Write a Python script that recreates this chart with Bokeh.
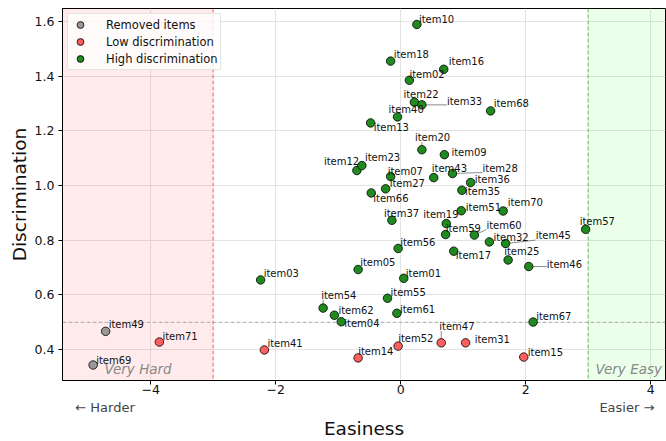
from bokeh.plotting import figure
from bokeh.models import Range1d, FixedTicker, BoxAnnotation, Span, Label, ColumnDataSource, LinearAxis
from bokeh.core.properties import value
from bokeh.embed import file_html
from bokeh.resources import INLINE

# ---------------- data ----------------
items = ["item10", "item18", "item16", "item02", "item22", "item33", "item68", "item40", "item13",
         "item20", "item09", "item12", "item23", "item07", "item43", "item28", "item36", "item35",
         "item27", "item66", "item51", "item70", "item37", "item19", "item59", "item60", "item32",
         "item45", "item56", "item17", "item25", "item46", "item57", "item05", "item01", "item03",
         "item55", "item54", "item62", "item61", "item04", "item67",
         "item47", "item31", "item52", "item14", "item15", "item41", "item71",
         "item49", "item69"]
easiness = [0.26, -0.16, 0.69, 0.14, 0.22, 0.34, 1.44, -0.05, -0.48,
            0.34, 0.70, -0.70, -0.62, -0.16, 0.53, 0.83, 1.12, 0.98,
            -0.24, -0.47, 0.97, 1.64, -0.14, 0.73, 0.72, 1.18, 1.42,
            1.68, -0.04, 0.85, 1.72, 2.05, 2.96, -0.68, 0.05, -2.24,
            -0.21, -1.24, -1.06, -0.06, -0.95, 2.12,
            0.65, 1.04, -0.04, -0.68, 1.97, -2.18, -3.86,
            -4.72, -4.92]
discrimination = [1.589, 1.455, 1.425, 1.385, 1.305, 1.295, 1.273, 1.251, 1.229,
                  1.131, 1.113, 1.055, 1.073, 1.033, 1.029, 1.044, 1.011, 0.983,
                  0.988, 0.973, 0.908, 0.907, 0.873, 0.861, 0.821, 0.819, 0.794,
                  0.788, 0.770, 0.760, 0.728, 0.704, 0.840, 0.693, 0.661, 0.655,
                  0.588, 0.552, 0.526, 0.533, 0.502, 0.501,
                  0.425, 0.425, 0.413, 0.370, 0.373, 0.399, 0.428,
                  0.467, 0.344]
status = ["High"] * 42 + ["Low"] * 7 + ["Removed"] * 2

x_ticks = [-4, -2, 0, 2, 4]
y_ticks = [0.4, 0.6, 0.8, 1.0, 1.2, 1.4, 1.6]
direction_labels = ["← Harder", "Easier →"]
direction_pos = [-4.73, 3.62]

# ---------------- layout / style ----------------
FONT = "DejaVu Sans"
W, H = 666, 441
BL, BR, BT, BB = 62, 1, 8, 59
X0, X1 = -5.41, 4.238
Y1 = 1.6473
Y0 = 1.6473 - (H - BT - BB) / 275.0
PXX = (W - BL - BR) / (X1 - X0)
PXY = (H - BT - BB) / (Y1 - Y0)

# label offsets in pixels (dx right, dy up) of label's left-middle from point
label_off = {
    "item10": (2, 5), "item18": (3, 7), "item16": (5, 7.5), "item02": (0, 6), "item22": (-11, 8),
    "item33": (25, 3), "item68": (3, 7), "item40": (-9, 7), "item13": (3, -4.5), "item20": (-7, 12),
    "item09": (7, 2.5), "item12": (-33, 9.5), "item23": (3, 8.5), "item07": (-3, 5), "item43": (-2, 9.5),
    "item28": (30, 5.5), "item36": (4, 3), "item27": (4, 5), "item35": (3, -1), "item66": (2, -6),
    "item51": (4.5, 3.5), "item70": (4.5, 8.5), "item37": (-8, 7), "item19": (-23, 9.5), "item59": (0, 6),
    "item60": (12, 10), "item32": (4, 4.5), "item45": (30, 8), "item56": (2, 6.5), "item17": (2, -4),
    "item25": (-4, 8.5), "item46": (18, 2.5), "item57": (-6, 8), "item05": (2, 7), "item01": (2, 5),
    "item03": (3, 6), "item55": (3, 5.5), "item54": (-2, 13), "item62": (4, 4.5), "item61": (3, 4),
    "item04": (3, -2), "item67": (3, 6), "item47": (-2, 16.5), "item31": (9, 3), "item52": (0, 7.5),
    "item14": (0, 6), "item15": (4, 4.5), "item41": (3, 6), "item71": (3, 5.5), "item49": (3, 7),
    "item69": (3, 5),
}
leaders = {"item33", "item28", "item45", "item46", "item60", "item47", "item20", "item23", "item54", "item70"}
LBL_W, LBL_H = 35, 9

colors = {"Removed": "#999999", "Low": "#ff5e5e", "High": "#1f8b1f"}
legend_names = {"Removed": "Removed items", "Low": "Low discrimination", "High": "High discrimination"}

p = figure(width=W, height=H, output_backend="svg", toolbar_location=None,
           x_range=Range1d(X0, X1), y_range=Range1d(Y0, Y1),
           min_border_left=BL, min_border_right=BR, min_border_top=BT, min_border_bottom=BB)
p.background_fill_color = "white"
p.border_fill_color = "white"
p.outline_line_color = "black"
p.outline_line_width = 1

# regions
p.add_layout(BoxAnnotation(right=-3, fill_color="#ff0000", fill_alpha=0.08, line_alpha=0, level="underlay"))
p.add_layout(BoxAnnotation(left=3, fill_color="#00ff00", fill_alpha=0.08, line_alpha=0, level="underlay"))
p.add_layout(Span(location=-3, dimension="height", line_color="#ff5c5c", line_dash="4 2", line_width=1, level="underlay"))
p.add_layout(Span(location=3, dimension="height", line_color="#5cb85c", line_dash="4 2", line_width=1, level="underlay"))
p.add_layout(Span(location=0.5, dimension="width", line_color="#aaaaaa", line_dash="4 2", line_width=1, level="underlay"))

# labels and leader lines
lx, ly, sx0, sy0, sx1, sy1 = [], [], [], [], [], []
for name, xv, yv in zip(items, easiness, discrimination):
    dx, dy = label_off[name]
    lx.append(xv + dx / PXX)
    ly.append(yv + dy / PXY)
    if name in leaders:
        ex = min(max(0, dx), dx + LBL_W)
        ey = min(max(0, dy - LBL_H / 2), dy + LBL_H / 2)
        sx0.append(xv); sy0.append(yv)
        sx1.append(xv + ex / PXX); sy1.append(yv + ey / PXY)

p.segment(sx0, sy0, sx1, sy1, line_color="#808080", line_width=0.9)

for st in ["Removed", "Low", "High"]:
    idx = [i for i, s in enumerate(status) if s == st]
    src = ColumnDataSource(dict(x=[easiness[i] for i in idx], y=[discrimination[i] for i in idx]))
    p.scatter("x", "y", source=src, size=8.5, fill_color=colors[st], line_color="black",
              line_width=0.8, legend_label=legend_names[st])

p.text(lx, ly, text=items, text_font=value(FONT), text_font_size="10px", text_baseline="middle",
       text_align="left", text_color="#111111")

# zone labels
p.add_layout(Label(x=-4.2, y=0.331, text="Very Hard", text_align="center", text_baseline="middle",
                   text_font=FONT, text_font_size="13.5px", text_font_style="italic", text_color="#888888"))
p.add_layout(Label(x=3.65, y=0.331, text="Very Easy", text_align="center", text_baseline="middle",
                   text_font=FONT, text_font_size="13.5px", text_font_style="italic", text_color="#888888"))

# grid
for g in (p.xgrid, p.ygrid):
    g.grid_line_color = "#e3e3e3"
    g.grid_line_width = 1
p.xgrid.ticker = FixedTicker(ticks=x_ticks)
p.ygrid.ticker = FixedTicker(ticks=y_ticks)

# axes
p.xaxis.ticker = FixedTicker(ticks=x_ticks)
p.yaxis.ticker = FixedTicker(ticks=y_ticks)
p.xaxis.major_label_overrides = {t: (str(t).replace("-", "−")) for t in x_ticks}
p.yaxis.major_label_overrides = {t: f"{t:.1f}" for t in y_ticks}
p.yaxis.axis_label = "Discrimination"
for ax in (p.xaxis[0], p.yaxis[0]):
    ax.axis_line_color = "black"
    ax.major_tick_line_color = "black"
    ax.major_tick_out = 4
    ax.major_tick_in = 0
    ax.minor_tick_line_color = None
    ax.major_label_text_font = FONT
    ax.major_label_text_font_size = "12.5px"
    ax.major_label_text_color = "#111111"
    ax.axis_label_text_font = FONT
    ax.axis_label_text_font_size = "18.5px"
    ax.axis_label_text_font_style = "normal"
    ax.axis_label_text_color = "#111111"
p.xaxis[0].major_label_standoff = 0
p.yaxis[0].major_label_standoff = 4
p.yaxis[0].axis_label_standoff = 2

# second bottom axis: direction hints + axis title
ax2 = LinearAxis(ticker=FixedTicker(ticks=direction_pos),
                 major_label_overrides={t: s for t, s in zip(direction_pos, direction_labels)},
                 axis_label="Easiness")
ax2.axis_line_color = None
ax2.major_tick_line_color = None
ax2.minor_tick_line_color = None
ax2.major_tick_out = 0
ax2.major_tick_in = 0
ax2.major_label_standoff = 3
ax2.major_label_text_font = FONT
ax2.major_label_text_font_size = "13px"
ax2.major_label_text_color = "#444444"
ax2.axis_label_text_font = FONT
ax2.axis_label_text_font_size = "18.5px"
ax2.axis_label_text_font_style = "normal"
ax2.axis_label_text_color = "#111111"
ax2.axis_label_standoff = 0
p.add_layout(ax2, "below")

# legend
lg = p.legend[0]
lg.location = "top_left"
lg.margin = 5
lg.padding = 2
lg.spacing = 0
lg.glyph_width = 20
lg.glyph_height = 17
lg.label_height = 17
lg.label_standoff = 16
lg.label_text_font = FONT
lg.label_text_font_size = "11.5px"
lg.label_text_color = "#111111"
lg.background_fill_color = "white"
lg.background_fill_alpha = 0.8
lg.border_line_color = "#cccccc"
lg.border_line_width = 1

open("out.html", "w").write(file_html(p, INLINE))
